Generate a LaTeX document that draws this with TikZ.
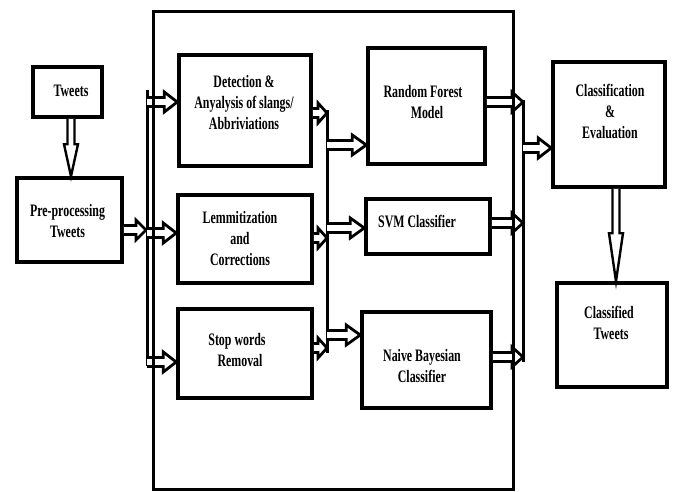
\documentclass[tikz,border=0pt]{standalone}
\usepackage{fontspec}
\setmainfont{Liberation Serif}[FakeStretch=0.68]
\usetikzlibrary{calc}
\tikzset{
  box/.style={draw, line width=3.5pt, inner sep=0pt, fill=white},
  txt/.style={font=\bfseries\fontsize{17.5}{21}\selectfont, align=center, inner sep=0pt},
  bar/.style={line width=3pt},
  frame/.style={line width=3pt},
  harrow/.style={draw, fill=white, line width=2.8pt, line join=miter},
  varrow/.style={draw, fill=white, line width=2.4pt, line join=miter},
}
\newcommand\rarr[3][13]{%
  \path[harrow] let \p1=(#2), \p2=(#3) in
  (\x1,\y1+4.5pt) -- (\x2-#1pt,\y1+4.5pt) -- (\x2-#1pt,\y1+10pt) -- (\x2,\y1)
  -- (\x2-#1pt,\y1-10pt) -- (\x2-#1pt,\y1-4.5pt) -- (\x1,\y1-4.5pt);}
\newcommand\darr[3][30]{%
  \path[varrow] let \p1=(#2), \p2=(#3) in
  (\x1-3.5pt,\y1) -- (\x1-3.5pt,\y2+#1pt) -- (\x1-7pt,\y2+#1pt) -- (\x1,\y2)
  -- (\x1+7pt,\y2+#1pt) -- (\x1+3.5pt,\y2+#1pt) -- (\x1+3.5pt,\y1);}
\begin{document}
\begin{tikzpicture}[x=1pt,y=-1pt]
\useasboundingbox (0,0) rectangle (673,491);
% boxes
\node[box, minimum width=69pt, minimum height=50pt] (tweets) at (67.5,92) {};
\node[box, minimum width=105pt, minimum height=84pt] (pre) at (69.5,220) {};
\node[box, minimum width=132pt, minimum height=111pt] (detect) at (245,110.5) {};
\node[box, minimum width=134pt, minimum height=88pt] (lemm) at (245,239) {};
\node[box, minimum width=134pt, minimum height=89pt] (stop) at (245,353.5) {};
\node[box, minimum width=117pt, minimum height=116pt] (rf) at (426.5,106) {};
\node[box, minimum width=124pt, minimum height=55pt] (svm) at (428,226.5) {};
\node[box, minimum width=129pt, minimum height=96pt] (naive) at (426.5,360) {};
\node[box, minimum width=112pt, minimum height=125pt] (class) at (609,124.5) {};
\node[box, minimum width=110pt, minimum height=104pt] (classified) at (612,335) {};
% texts
\node[txt] (tweets-t) at (71,91) {Tweets};
\node[txt] (pre-t) at (67.5,221) {Pre-processing\\Tweets};
\node[txt] (detect-t) at (244,103) {Detection \&\\Anyalysis of slangs/\\Abbriviations};
\node[txt] (lemm-t) at (240,239) {Lemmitization\\and\\Corrections};
\node[txt] (stop-t) at (237,350) {Stop words\\\hspace*{6pt}Removal};
\node[txt] (rf-t) at (423,102) {Random Forest\\\hspace*{8pt}Model};
\node[txt] (svm-t) at (417,221) {SVM Classifier};
\node[txt] (naive-t) at (422,366) {Naive Bayesian\\Classifier};
\node[txt] (class-t) at (610,111) {Classification\\\&\\Evaluation};
\node[txt] (classified-t) at (609,323) {Classified\\\hspace*{4pt}Tweets};
% bars
\coordinate (b1t) at (147,90);  \coordinate (b1b) at (147,366);
\coordinate (b2t) at (327,110); \coordinate (b2b) at (327,353);
\coordinate (b3t) at (523,100); \coordinate (b3b) at (523,362);
\draw[bar] (b1t) -- (b1b);
\draw[bar] (b2t) -- (b2b);
\draw[bar] (b3t) -- (b3b);
% bar coordinates for arrows
\coordinate (b1a) at (147,102);
\coordinate (b1b2) at (147,233);
\coordinate (b1c) at (147,362);
\coordinate (b1in) at (146,230);
\coordinate (b2in1) at (327,113);
\coordinate (b2in2) at (327,238);
\coordinate (b2in3) at (327,348);
\coordinate (b2a) at (327,145);
\coordinate (b2b2) at (327,228);
\coordinate (b2c) at (327,335);
\coordinate (b3in1) at (523,102);
\coordinate (b3in2) at (523,223);
\coordinate (b3in3) at (523,357);
\coordinate (b3out) at (523,148);
% arrows
\darr[32]{[xshift=3.5pt]tweets.south}{pre.north}
\rarr[10]{[yshift=-10pt]pre.east}{b1in}
\rarr{b1a}{detect.west}
\rarr{b1b2}{lemm.west}
\rarr{b1c}{stop.west}
\rarr[9]{[yshift=-2.5pt]detect.east}{b2in1}
\rarr[9]{[yshift=1pt]lemm.east}{b2in2}
\rarr[9]{[yshift=5.5pt]stop.east}{b2in3}
\rarr[14]{b2a}{rf.west}
\rarr[14]{b2b2}{svm.west}
\rarr[14]{b2c}{naive.west}
\rarr[11]{[yshift=4pt]rf.east}{b3in1}
\rarr[11]{[yshift=3.5pt]svm.east}{b3in2}
\rarr[11]{[yshift=3pt]naive.east}{b3in3}
\rarr[13]{b3out}{class.west}
\darr[48]{[xshift=7pt]class.south}{classified.north}
% frame
\coordinate (f1) at (153,11);
\coordinate (f2) at (513,489.5);
\draw[frame] (f1) rectangle (f2);
\end{tikzpicture}
\end{document}
